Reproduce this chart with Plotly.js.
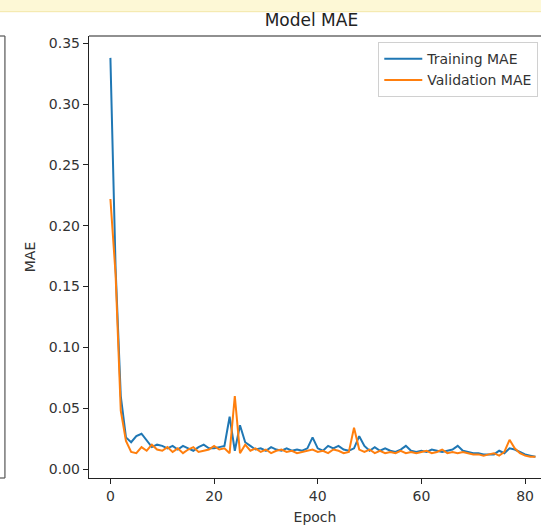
<!DOCTYPE html>
<html>
<head>
<meta charset="utf-8">
<script src="https://cdn.plot.ly/plotly-3.0.1.min.js"></script>
<style>html,body{margin:0;padding:0;background:#fff;}#chart{width:541px;height:528px;}</style>
</head>
<body>
<div id="chart"></div>
<script>
const epochs = Array.from({length: 83}, (_, i) => i);
const trainingMAE = [
  0.338, 0.165, 0.060, 0.026, 0.022, 0.027, 0.029, 0.023, 0.018, 0.020,
  0.019, 0.017, 0.019, 0.016, 0.019, 0.017, 0.015, 0.018, 0.020, 0.017,
  0.017, 0.018, 0.019, 0.043, 0.015, 0.036, 0.022, 0.019, 0.016, 0.017,
  0.015, 0.018, 0.016, 0.015, 0.017, 0.015, 0.016, 0.015, 0.017, 0.026,
  0.017, 0.015, 0.019, 0.017, 0.019, 0.016, 0.015, 0.017, 0.027, 0.019,
  0.015, 0.018, 0.015, 0.017, 0.015, 0.014, 0.016, 0.019, 0.015, 0.014,
  0.015, 0.014, 0.016, 0.015, 0.014, 0.015, 0.016, 0.019, 0.015, 0.014,
  0.013, 0.013, 0.012, 0.012, 0.012, 0.015, 0.013, 0.017, 0.016, 0.014,
  0.012, 0.011, 0.010
];
const validationMAE = [
  0.222, 0.160, 0.048, 0.023, 0.014, 0.013, 0.018, 0.015, 0.020, 0.016,
  0.015, 0.018, 0.014, 0.017, 0.013, 0.016, 0.018, 0.014, 0.015, 0.016,
  0.019, 0.016, 0.017, 0.013, 0.060, 0.013, 0.020, 0.015, 0.017, 0.014,
  0.016, 0.013, 0.015, 0.016, 0.014, 0.015, 0.013, 0.014, 0.015, 0.016,
  0.014, 0.015, 0.013, 0.016, 0.015, 0.013, 0.014, 0.034, 0.016, 0.014,
  0.016, 0.013, 0.015, 0.013, 0.014, 0.013, 0.015, 0.013, 0.014, 0.013,
  0.014, 0.015, 0.013, 0.014, 0.016, 0.013, 0.014, 0.013, 0.014, 0.013,
  0.012, 0.012, 0.011, 0.012, 0.013, 0.011, 0.014, 0.024, 0.017, 0.013,
  0.011, 0.010, 0.010
];
const seriesNames = ["Training MAE", "Validation MAE"];
const yTicks = [0, 0.05, 0.10, 0.15, 0.20, 0.25, 0.30, 0.35];
const xTicks = [0, 20, 40, 60, 80];

const font = "DejaVu Sans, sans-serif";
const traces = [
  {x: epochs, y: trainingMAE, name: seriesNames[0], type: "scatter", mode: "lines",
   line: {color: "#1f77b4", width: 2}},
  {x: epochs, y: validationMAE, name: seriesNames[1], type: "scatter", mode: "lines",
   line: {color: "#ff7f0e", width: 2}}
];
const layout = {
  width: 541, height: 528,
  margin: {l: 89, r: 0, t: 36, b: 50, pad: 0},
  paper_bgcolor: "#ffffff", plot_bgcolor: "#ffffff",
  font: {family: font, size: 14, color: "#333333"},
  title: {text: "Model MAE", x: 0.492, xanchor: "center", xref: "paper", y: 0.962, yanchor: "middle",
          font: {family: font, size: 17, color: "#222222"}},
  showlegend: true,
  legend: {x: 0.64, y: 0.986, xanchor: "left", yanchor: "top", itemwidth: 38,
           bgcolor: "rgba(255,255,255,0.85)", bordercolor: "#d0d0d0", borderwidth: 1,
           font: {family: font, size: 14, color: "#333333"}, tracegroupgap: 0},
  xaxis: {range: [-4.13, 83.07], tickvals: xTicks, ticktext: xTicks.map(String),
          showgrid: false, zeroline: false, showline: true, linecolor: "#222", linewidth: 1.2,
          ticks: "outside", ticklen: 5, tickcolor: "#222", tickfont: {size: 14, color: "#333"},
          title: {text: "Epoch", font: {size: 14, color: "#333"}, standoff: 9}},
  yaxis: {range: [-0.0074, 0.356], tickvals: yTicks, ticktext: yTicks.map(v => v.toFixed(2)),
          showgrid: false, zeroline: false, showline: true, linecolor: "#222", linewidth: 1.2,
          ticks: "outside", ticklen: 5, tickcolor: "#222", tickfont: {size: 14, color: "#333"},
          title: {text: "MAE", font: {size: 14, color: "#333"}, standoff: 10}},
  shapes: [
    {type: "line", xref: "paper", yref: "paper", x0: 0, x1: 1, y0: 1, y1: 1,
     line: {color: "#222", width: 1.2}},
    {type: "rect", xref: "paper", yref: "paper", x0: -0.25, x1: 1.05, y0: 1.055, y1: 1.2,
     fillcolor: "#fdf8d6", line: {width: 0}, layer: "below"},
    {type: "line", xref: "paper", yref: "paper", x0: -0.25, x1: 1.05, y0: 1.055, y1: 1.055,
     line: {color: "#f3e7a8", width: 1}},
    {type: "line", xref: "paper", yref: "paper", x0: -0.186, x1: -0.186, y0: 0, y1: 1,
     line: {color: "#555", width: 1.2}},
    {type: "line", xref: "paper", yref: "paper", x0: -0.25, x1: -0.186, y0: 0, y1: 0,
     line: {color: "#555", width: 1.2}},
    {type: "line", xref: "paper", yref: "paper", x0: -0.25, x1: -0.186, y0: 1, y1: 1,
     line: {color: "#555", width: 1.2}}
  ]
};
Plotly.newPlot("chart", traces, layout, {displayModeBar: false, staticPlot: true});
</script>
</body>
</html>
